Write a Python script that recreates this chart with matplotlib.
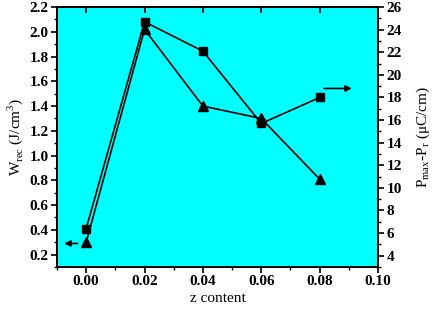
import matplotlib.pyplot as plt
from matplotlib.ticker import MultipleLocator

# data
z = [0.00, 0.02, 0.04, 0.06, 0.08]
w_rec = [0.30, 2.02, 1.40, 1.30, 0.81]        # triangles, left axis
p_diff = [6.4, 24.7, 22.1, 15.7, 18.0]        # squares, right axis

plt.rcParams['font.family'] = ['Liberation Serif', 'DejaVu Serif']
plt.rcParams['mathtext.fontset'] = 'custom'
plt.rcParams['mathtext.rm'] = 'Liberation Serif'

fig = plt.figure(figsize=(4.36, 3.09), dpi=100)
ax = fig.add_axes([0.1307, 0.136, 0.7363, 0.841])
ax.set_facecolor('#00FFFF')
ax2 = ax.twinx()

ax.plot(z, w_rec, color='black', lw=1.2, marker='^', ms=6.5)
ax2.plot(z, p_diff, color='black', lw=1.2, marker='s', ms=5.5)

ax.set_xlim(-0.01, 0.10)
ax.set_ylim(0.1, 2.2)
ax2.set_ylim(3, 26)

xt = [0.0, 0.02, 0.04, 0.06, 0.08, 0.10]
yt = [0.2, 0.4, 0.6, 0.8, 1.0, 1.2, 1.4, 1.6, 1.8, 2.0, 2.2]
ax.set_xticks(xt)
ax.set_xticklabels(['%.2f' % v for v in xt])
ax.xaxis.set_minor_locator(MultipleLocator(0.01))
ax.set_yticks(yt)
ax.set_yticklabels(['%.1f' % v for v in yt])
ax.yaxis.set_minor_locator(MultipleLocator(0.1))
ax2.yaxis.set_major_locator(MultipleLocator(2))
ax2.yaxis.set_minor_locator(MultipleLocator(1))

ax.tick_params(axis='both', which='major', direction='out', length=4, width=1.2, pad=2)
ax.tick_params(axis='both', which='minor', direction='out', length=2, width=1)
ax2.tick_params(axis='y', which='major', direction='out', length=4, width=1.2, pad=2)
ax2.tick_params(axis='y', which='minor', direction='out', length=2, width=1)

# inward major ticks on the top edge, no labels
top = ax.secondary_xaxis('top')
top.set_xticks(xt)
top.tick_params(direction='in', length=4, width=1.2, labeltop=False)
top.spines['top'].set_linewidth(1.2)

for a in (ax, ax2):
    for s in a.spines.values():
        s.set_linewidth(1.2)
    for lab in a.get_xticklabels() + a.get_yticklabels():
        lab.set_fontweight('bold')
        lab.set_fontsize(11)

ax.set_xlabel('z content', fontsize=11, labelpad=3)
ax.set_ylabel(r'W$_{\mathrm{rec}}$ (J/cm$^3$)', fontsize=11, labelpad=3)
ax2.set_ylabel(r'P$_{\mathrm{max}}$-P$_{\mathrm{r}}$ ($\mathrm{\mu}$C/cm)', fontsize=11, labelpad=9)

# arrows indicating which axis each series belongs to
ax.annotate('', xy=(-0.0085, 0.29), xytext=(-0.002, 0.29),
            arrowprops=dict(arrowstyle='-|>', color='black', lw=1.2, mutation_scale=9))
ax2.annotate('', xy=(0.092, 18.8), xytext=(0.0805, 18.8),
             arrowprops=dict(arrowstyle='-|>', color='black', lw=1.2, mutation_scale=9))

fig.savefig('out.png', dpi=100)
